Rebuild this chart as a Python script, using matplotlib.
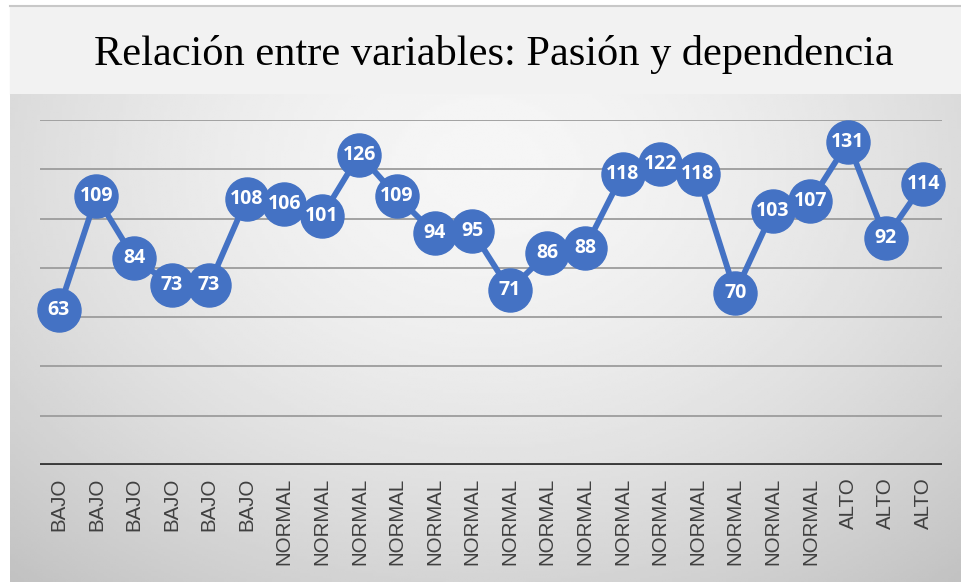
import numpy as np
import matplotlib
matplotlib.use("Agg")
import matplotlib.pyplot as plt
from matplotlib.patches import Rectangle

# data
categorias = ["BAJO"] * 6 + ["NORMAL"] * 15 + ["ALTO"] * 3
valores = [63, 109, 84, 73, 73, 108, 106, 101, 126, 109, 94, 95,
           71, 86, 88, 118, 122, 118, 70, 103, 107, 131, 92, 114]
titulo = "Relación entre variables: Pasión y dependencia"

W, H = 962, 583
fig = plt.figure(figsize=(W / 100, H / 100), dpi=100)
fig.patch.set_facecolor("white")

# background: title band + radial gradient plot area (pixel coords)
bg = fig.add_axes([0, 0, 1, 1])
bg.set_xlim(0, W)
bg.set_ylim(H, 0)
bg.axis("off")
bg.add_patch(Rectangle((10, 6), W - 10, 88, color="#f2f2f2", zorder=0))
bg.plot([10, W], [6, 6], color="#c8c8c8", lw=1.5)

gy, gx = np.mgrid[0:1:200j, 0:1:300j]
d = np.sqrt(((gx - 0.5) / 0.75) ** 2 + ((gy - 0.15) / 1.1) ** 2)
shade = np.clip(0.965 - 0.2 * d ** 1.6, 0, 1)
bg.imshow(shade, cmap="gray", vmin=0, vmax=1, extent=[10, W, 582, 94],
          aspect="auto", zorder=1)

bg.text(494, 54, titulo, ha="center", va="center", fontsize=30.5,
        family="Liberation Serif", color="black")

# main axes: x from 40 to 942 px, y from 465 (0) up to 120 (140)
ax = fig.add_axes([40 / W, 1 - 465 / H, 902 / W, (465 - 120) / H])
ax.patch.set_alpha(0)
x = np.arange(len(valores))
ax.set_xlim(-0.5, len(valores) - 0.5)
ax.set_ylim(0, 140)

for v in range(20, 141, 20):
    ax.axhline(v, color="#9c9c9c", lw=1.3, zorder=1)
ax.axhline(0, color="#3a3a3a", lw=2.8, zorder=2)

for s in ax.spines.values():
    s.set_visible(False)

ax.plot(x, valores, color="#4472c4", lw=4.2, marker="o", markersize=31,
        markerfacecolor="#4472c4", markeredgecolor="#4472c4",
        clip_on=False, zorder=3)
for xi, v in zip(x, valores):
    ax.text(xi, v, str(v), ha="center", va="center", color="white",
            fontsize=14, fontweight="bold", family="Open Sans", zorder=4)

ax.set_yticks([])
ax.set_xticks(x)
ax.set_xticklabels(categorias, rotation=90, fontsize=14.8,
                   family="Liberation Sans", color="#404040")
ax.tick_params(axis="x", length=0, pad=9)

fig.savefig("out.png", dpi=100)
